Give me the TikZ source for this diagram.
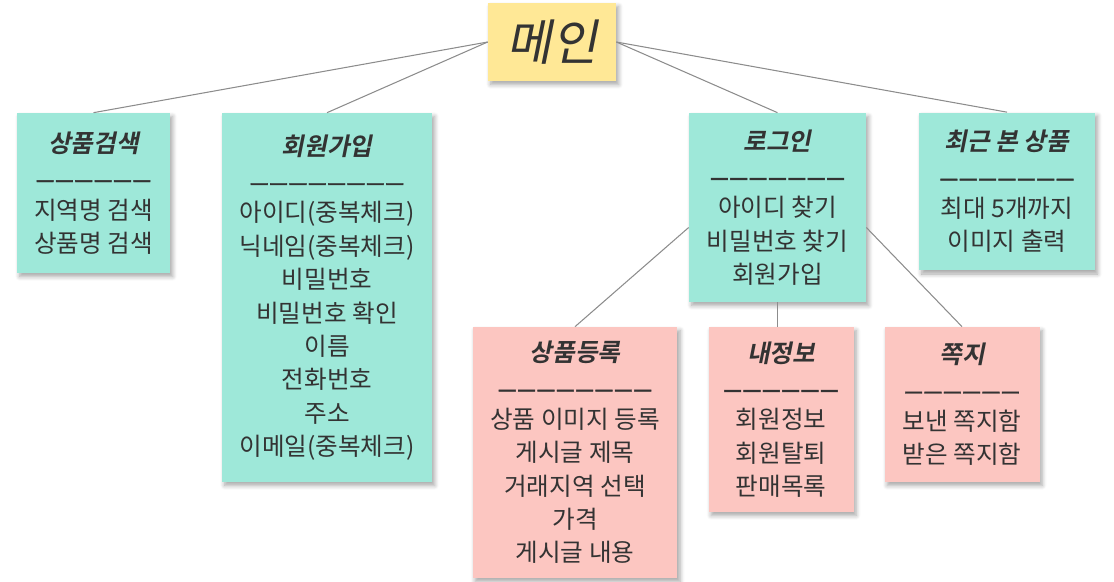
\documentclass[tikz,border=0pt]{standalone}
\usepackage{fontspec}
\setmainfont{Noto Sans CJK KR}[AutoFakeSlant=0.2]
\newfontfamily\headfont{Noto Sans CJK KR Bold}[FakeSlant=0.2]
\newfontfamily\dashfont{Liberation Sans Bold}[LetterSpace=16, FakeBold=2.5]
\usepackage{xcolor}
\usetikzlibrary{shadows.blur}

\definecolor{mintfill}{HTML}{9EE8D9}
\definecolor{pinkfill}{HTML}{FCC6C1}
\definecolor{yellowfill}{HTML}{FFE896}
\definecolor{inktext}{HTML}{333333}
\definecolor{wiregray}{HTML}{8C8C8C}

\newcommand\boxtitle[1]{{\headfont #1}}
\newcommand\rulebar[1]{{\dashfont\fontsize{9.5pt}{19pt}\selectfont #1}}

\begin{document}
\begin{tikzpicture}[
  x=0.02cm, y=-0.02cm,
  card/.style={inner sep=0pt, align=center, text=inktext,
    font=\fontsize{14pt}{19pt}\selectfont,
    blur shadow={shadow xshift=1.5pt, shadow yshift=-2pt,
      shadow blur radius=2.5pt, shadow blur steps=6, shadow opacity=35}},
  rootcard/.style={card, fill=yellowfill, font=\fontsize{28pt}{32pt}\selectfont\itshape},
  mintcard/.style={card, fill=mintfill},
  pinkcard/.style={card, fill=pinkfill},
  wire/.style={draw=wiregray, line width=0.6pt}
]
\useasboundingbox (0,0) rectangle (1114,581);

% top
\node[rootcard, minimum width=2.56cm, minimum height=1.56cm] (main) at (552,42) {메인};

% first row
\node[mintcard, minimum width=3.06cm, minimum height=3.2cm] (search) at (93.5,193)
  {\boxtitle{상품검색}\\\rulebar{——————}\\지역명 검색\\상품명 검색};
\node[mintcard, minimum width=4.2cm, minimum height=7.38cm] (join) at (327,297.5)
  {\boxtitle{회원가입}\\\rulebar{————————}\\아이디(중복체크)\\닉네임(중복체크)\\비밀번호\\비밀번호 확인\\이름\\전화번호\\주소\\이메일(중복체크)};
\node[mintcard, minimum width=3.54cm, minimum height=3.78cm] (login) at (777.5,207.5)
  {\boxtitle{로그인}\\\rulebar{———————}\\아이디 찾기\\비밀번호 찾기\\회원가입};
\node[mintcard, minimum width=3.52cm, minimum height=3.16cm] (recent) at (1007,191.5)
  {\boxtitle{최근 본 상품}\\\rulebar{———————}\\최대 5개까지\\이미지 출력};

% second row
\node[pinkcard, minimum width=4.1cm, minimum height=5.02cm] (register) at (575,452.5)
  {\boxtitle{상품등록}\\\rulebar{————————}\\상품 이미지 등록\\게시글 제목\\거래지역 선택\\가격\\게시글 내용};
\node[pinkcard, minimum width=2.9cm, minimum height=3.7cm] (myinfo) at (781,419.5)
  {\boxtitle{내정보}\\\rulebar{——————}\\회원정보\\회원탈퇴\\판매목록};
\node[pinkcard, minimum width=3.1cm, minimum height=3.1cm] (note) at (962,404.5)
  {\boxtitle{쪽지}\\\rulebar{——————}\\보낸 쪽지함\\받은 쪽지함};

% connectors
\draw[wire] (main.west) -- (search.north);
\draw[wire] (main.west) -- (join.north);
\draw[wire] (main.east) -- (login.north);
\draw[wire] (main.east) -- (recent.north);
\draw[wire] ([yshift=-0.4cm]login.west) -- (register.north);
\draw[wire] (login.south) -- (login.south |- myinfo.north);
\draw[wire] ([yshift=-0.4cm]login.east) -- (note.north);
\end{tikzpicture}
\end{document}
